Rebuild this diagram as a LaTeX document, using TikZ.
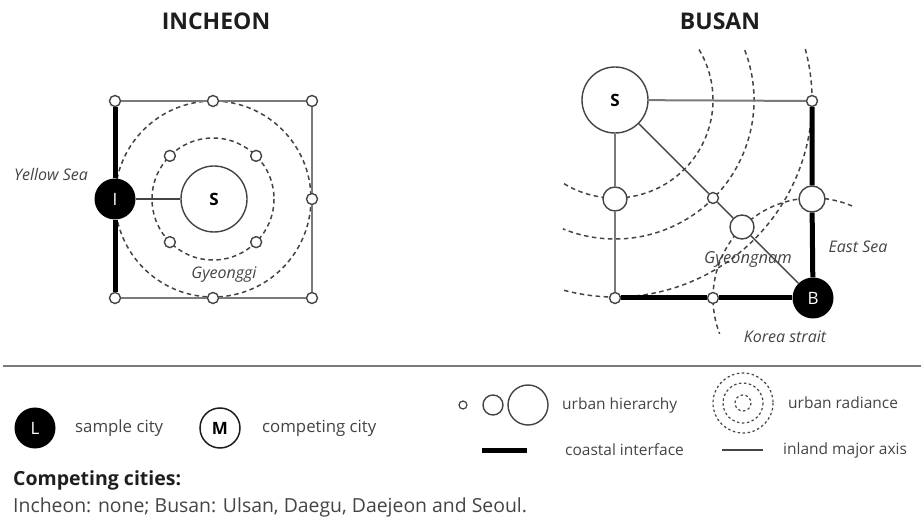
\documentclass[tikz,border=0pt]{standalone}
\usepackage{fontspec}
\setmainfont{Open Sans}
\usepackage{tikz}
\definecolor{ink}{HTML}{1E1E1E}
\definecolor{muted}{HTML}{444444}
\definecolor{axisgray}{HTML}{7A7A7A}
\tikzset{
  coast/.style={draw=black, line width=5pt},
  axis/.style={draw=axisgray, line width=2pt},
  link/.style={draw=muted, line width=1.4pt},
  rad/.style={draw=muted, line width=1.5pt, dash pattern=on 4.5pt off 3.5pt},
  sample/.style={circle, fill=black, text=white, minimum size=41pt, inner sep=0pt, font=\fontsize{17}{17}\selectfont},
  metro/.style={circle, draw=muted, line width=1.4pt, fill=white, minimum size=66pt, inner sep=0pt, font=\bfseries\fontsize{17}{17}\selectfont},
  town/.style={circle, draw=muted, line width=1.4pt, fill=white, minimum size=11pt, inner sep=0pt},
  midtown/.style={town, minimum size=24pt},
  sea/.style={text=muted, font=\itshape\fontsize{16}{16}\selectfont},
  title/.style={text=ink, font=\bfseries\fontsize{23}{23}\selectfont},
  key/.style={text=muted, anchor=west, inner sep=0pt, font=\fontsize{15.5}{16}\selectfont}
}
\begin{document}
\begin{tikzpicture}[x=1pt,y=-1pt]
\useasboundingbox (0,0) rectangle (921,518);
\node[title] (tinc) at (216,21) {INCHEON};
\node[title] (tbus) at (720,21) {BUSAN};

% Incheon
\draw[rad] (213,199) circle (61);
\draw[rad] (213,199) circle (98);
\node[metro] (incS) at (214,199) {S};
\node[sample] (inc) at (115,199) {I};
\node[town] (itl) at (115,101) {};
\node[town] (itm) at (213,101) {};
\node[town] (itr) at (312,101) {};
\node[town] (irm) at (312,199) {};
\node[town] (ibr) at (312,298) {};
\node[town] (ibm) at (213,298) {};
\node[town] (ibl) at (115,298) {};
\foreach \a in {45,135,225,315}
  \path (213,199) ++(\a:61) node[town] (sat\a) {};
\draw[coast] (itl) -- (inc) -- (ibl);
\draw[axis] (itl) -- (itm) -- (itr) -- (irm) -- (ibr) -- (ibm) -- (ibl);
\draw[link] (inc) -- (incS);
\node[sea] (ysea) at (51,175) {Yellow Sea};
\node[sea] (gyeonggi) at (224,275) {Gyeonggi};

% Busan
\coordinate (bc) at (615,100);
\coordinate (bb) at (813,298);
\draw[rad] (bc) ++(-31:98) arc[start angle=-31, end angle=122, radius=98];
\draw[rad] (bc) ++(-21:139) arc[start angle=-21, end angle=112, radius=139];
\draw[rad] (bc) ++(-15:197) arc[start angle=-15, end angle=105, radius=197];
\draw[rad] (bb) ++(-67:100) arc[start angle=-67, end angle=-201, radius=100];
\node[metro] (busS) at (bc) {S};
\node[sample] (bus) at (bb) {B};
\node[town] (btr) at (812,101) {};
\node[midtown] (blm) at (615,199) {};
\node[town] (bmid) at (713,198) {};
\node[midtown] (bmed) at (742,227) {};
\node[midtown, minimum size=26pt] (brm) at (812,199) {};
\node[town] (bbl) at (615,298) {};
\node[town] (bbm) at (713,298) {};
\draw[axis] (busS) -- (btr);
\draw[axis] (busS) -- (blm) -- (bbl);
\draw[coast] (btr) -- (brm) -- (bus);
\draw[coast] (bbl) -- (bbm) -- (bus);
\draw[link] (busS) -- (bmid) -- (bmed) -- (bus);
\node[sea, font=\itshape\fontsize{16.5}{16}\selectfont] (gyeongnam) at (748,260) {Gyeongnam};
\node[sea] (eastsea) at (858,247) {East Sea};
\node[sea] (strait) at (785,337) {Korea strait};

% legend
\draw[draw=axisgray, line width=2pt] (3,366) -- (921,366);
\node[sample] (keyL) at (35,428) {L};
\node[key, font=\fontsize{16.8}{17}\selectfont] (keyLt) at (75,428) {sample city};
\node[circle, draw=ink, line width=1.5pt, minimum size=40pt, inner sep=0pt, font=\bfseries\fontsize{17}{17}\selectfont] (keyM) at (220,428) {M};
\node[key, font=\fontsize{16.8}{17}\selectfont] (keyMt) at (262,428) {competing city};
\node[town, line width=1.2pt, minimum size=8pt] (h1) at (463,405) {};
\node[town, line width=1.4pt, minimum size=20pt] (h2) at (493,405) {};
\node[town, line width=1.4pt, minimum size=40pt] (h3) at (528,405) {};
\node[key] (keyH) at (562,405) {urban hierarchy};
\draw[rad, line width=1.2pt, dash pattern=on 2.5pt off 2.5pt]
  (743,403) circle (30) (743,403) circle (20) (743,403) circle (8);
\node[key] (keyR) at (788,403) {urban radiance};
\draw[coast] (482,450) -- (527,450);
\node[key] (keyC) at (565,450) {coastal interface};
\draw[link] (722,450) -- (763,450);
\node[key] (keyA) at (783,450) {inland major axis};
\node[anchor=west, inner sep=0pt, text=ink, font=\bfseries\fontsize{19.5}{20}\selectfont] (comp) at (13,480) {Competing cities:};
\node[anchor=west, inner sep=0pt, text=muted, font=\fontsize{19.4}{20}\selectfont] (complist) at (13,507) {Incheon: none; Busan: Ulsan, Daegu, Daejeon and Seoul.};
\end{tikzpicture}
\end{document}
